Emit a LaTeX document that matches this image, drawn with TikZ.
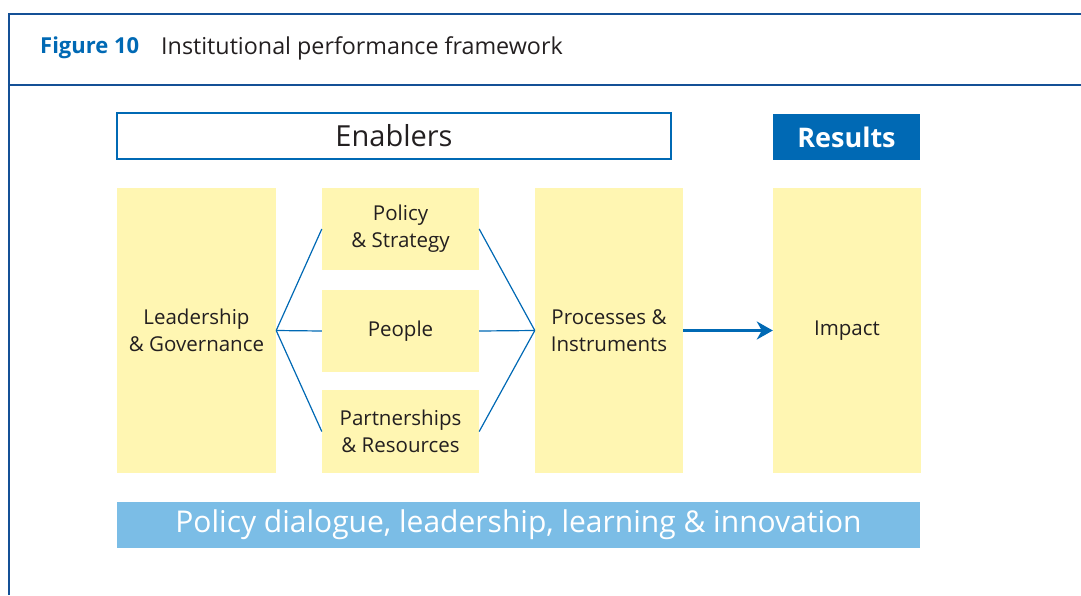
\documentclass[tikz,border=0pt]{standalone}
\usepackage{fontspec}
\setmainfont{Open Sans}
\usetikzlibrary{arrows.meta}

\tikzset{
	block/.style={rectangle, fill=PALEYELLOW, text=DARKGREY, align=center, inner sep=0pt,
		font=\fontsize{20.5}{27}\selectfont},
	link/.style={MIDBLUE, line width=1.2},
}

\begin{document}
\begin{tikzpicture}[x=1pt,y=-1pt]
	\definecolor{NAVY}{RGB}{20,80,150}
	\definecolor{MIDBLUE}{RGB}{0,105,180}
	\definecolor{SKYBLUE}{RGB}{123,189,230}
	\definecolor{PALEYELLOW}{RGB}{255,246,178}
	\definecolor{DARKGREY}{RGB}{35,31,32}
	\useasboundingbox (0,0) rectangle (1081,595);
	% frame and header
	\draw[NAVY, line width=2.5] (9,595) -- (9,14) -- (1081,14);
	\draw[NAVY, line width=1.5] (9,85) -- (1081,85);
	\node[anchor=west, inner sep=0pt, font=\fontsize{22}{26}\selectfont\bfseries, text=MIDBLUE] (fignum) at (40,48) {Figure 10};
	\node[anchor=west, inner sep=0pt, font=\fontsize{23.3}{26}\selectfont, text=DARKGREY] (figtitle) at (161,48) {Institutional performance framework};
	% headings
	\node[draw=MIDBLUE, line width=1.5, minimum width=554, minimum height=46, inner sep=0pt,
		font=\fontsize{29}{32}\selectfont, text=DARKGREY] (enablers) at (394,136) {Enablers};
	\node[fill=MIDBLUE, minimum width=147, minimum height=46, inner sep=0pt,
		font=\fontsize{27}{32}\selectfont\bfseries, text=white] (results) at (846.5,137) {Results};
	% blocks
	\node[block, minimum width=159, minimum height=285] (lead) at (196.5,330.5) {Leadership\\\& Governance};
	\node[block, minimum width=157, minimum height=82] (policy) at (400.5,229) {Policy\\\& Strategy};
	\node[block, minimum width=157, minimum height=82] (people) at (400.5,331) {People};
	\node[block, minimum width=157, minimum height=83] (partner) at (400.5,431.5) {Partnerships\\\& Resources};
	\node[block, minimum width=148, minimum height=285] (proc) at (609,330.5) {Processes \&\\Instruments};
	\node[block, minimum width=148, minimum height=285] (impact) at (847,330.5) {Impact};
	% bottom bar
	\node[fill=SKYBLUE, minimum width=803, minimum height=46, inner sep=0pt,
		font=\fontsize{30}{32}\selectfont, text=white] (dialogue) at (518.5,525) {Policy dialogue, leadership, learning \& innovation};
	% connectors
	\foreach \n in {policy,people,partner} {
		\draw[link] (lead.east) -- (\n.west);
		\draw[link] (\n.east) -- (proc.west);
	}
	\draw[MIDBLUE, line width=3, -{Stealth[length=16, width=18, inset=5]}] (proc.east) -- (impact.west);
\end{tikzpicture}
\end{document}
